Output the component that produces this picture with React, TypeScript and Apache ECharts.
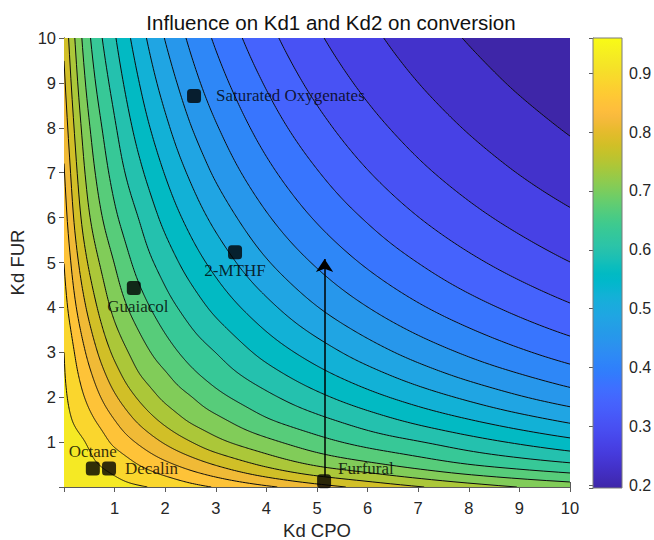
import React, { useEffect, useRef } from "react";
import * as echarts from "echarts";

// ---------- data ----------
const KD_CPO_GRID = [0, 0.5, 1, 1.5, 2, 2.5, 3, 4, 5, 6, 7, 8, 9, 10];
const KD_FUR_GRID = [0, 0.5, 1, 1.5, 2, 2.5, 3, 4, 5, 6, 7, 8, 9, 10];
// conversion, one row per KD_FUR_GRID value, one column per KD_CPO_GRID value
const CONVERSION_ROWS = [
  [0.9600, 0.9422, 0.9328, 0.9264, 0.9148, 0.8987, 0.8846, 0.8567, 0.8291, 0.8036, 0.7805, 0.7593, 0.7406, 0.7267],
  [0.9479, 0.9301, 0.9118, 0.8852, 0.8597, 0.8352, 0.8119, 0.7703, 0.7368, 0.7134, 0.6907, 0.6693, 0.6528, 0.6380],
  [0.9403, 0.9192, 0.8792, 0.8441, 0.8096, 0.7793, 0.7525, 0.7148, 0.6824, 0.6556, 0.6344, 0.6114, 0.5902, 0.5705],
  [0.9347, 0.8966, 0.8503, 0.8048, 0.7667, 0.7358, 0.7137, 0.6720, 0.6415, 0.6124, 0.5849, 0.5601, 0.5365, 0.5146],
  [0.9303, 0.8766, 0.8200, 0.7710, 0.7331, 0.7068, 0.6803, 0.6408, 0.6050, 0.5722, 0.5426, 0.5154, 0.4897, 0.4675],
  [0.9267, 0.8579, 0.7931, 0.7419, 0.7092, 0.6780, 0.6533, 0.6109, 0.5716, 0.5367, 0.5047, 0.4762, 0.4517, 0.4295],
  [0.9236, 0.8390, 0.7692, 0.7214, 0.6853, 0.6551, 0.6316, 0.5828, 0.5415, 0.5042, 0.4717, 0.4439, 0.4192, 0.3974],
  [0.9032, 0.8030, 0.7307, 0.6842, 0.6476, 0.6163, 0.5861, 0.5336, 0.4877, 0.4504, 0.4185, 0.3912, 0.3670, 0.3451],
  [0.8867, 0.7717, 0.7036, 0.6536, 0.6155, 0.5793, 0.5471, 0.4901, 0.4450, 0.4078, 0.3766, 0.3491, 0.3255, 0.3047],
  [0.8691, 0.7443, 0.6761, 0.6291, 0.5847, 0.5465, 0.5120, 0.4543, 0.4093, 0.3728, 0.3413, 0.3151, 0.2930, 0.2740],
  [0.8540, 0.7245, 0.6547, 0.6031, 0.5572, 0.5166, 0.4803, 0.4236, 0.3793, 0.3425, 0.3124, 0.2878, 0.2667, 0.2490],
  [0.8374, 0.7076, 0.6367, 0.5795, 0.5314, 0.4885, 0.4535, 0.3970, 0.3528, 0.3171, 0.2886, 0.2649, 0.2452, 0.2278],
  [0.8217, 0.6897, 0.6176, 0.5580, 0.5072, 0.4646, 0.4295, 0.3736, 0.3296, 0.2954, 0.2680, 0.2457, 0.2265, 0.2105],
  [0.8068, 0.6731, 0.5993, 0.5374, 0.4848, 0.4431, 0.4081, 0.3523, 0.3094, 0.2768, 0.2507, 0.2288, 0.2110, 0.1950],
];
const CONTOUR_LEVELS = [
  0.2314, 0.2679, 0.3043, 0.3407, 0.3771, 0.4136, 0.4500, 0.4864, 0.5229, 0.5593,
  0.5957, 0.6321, 0.6686, 0.7050, 0.7414, 0.7779, 0.8143, 0.8507, 0.8871, 0.9236,
];
const COLOR_MIN = 0.195;
const COLOR_MAX = 0.96;

const SOLVENT_NAMES = ["Saturated Oxygenates", "2-MTHF", "Guaiacol", "Octane", "Decalin", "Furfural"];
const SOLVENT_KD_CPO = [2.57, 3.38, 1.38, 0.57, 0.89, 5.14];
const SOLVENT_KD_FUR = [8.71, 5.23, 4.43, 0.41, 0.41, 0.13];

const ARROW_FROM = [5.15, 0.25];
const ARROW_TO = [5.15, 5.08];

// ---------- parula colormap ----------
const PARULA = [
  [0.2422, 0.1504, 0.6603], [0.2504, 0.1650, 0.7076], [0.2578, 0.1818, 0.7511], [0.2647, 0.1978, 0.7952],
  [0.2706, 0.2147, 0.8364], [0.2751, 0.2342, 0.8710], [0.2783, 0.2559, 0.8991], [0.2803, 0.2782, 0.9221],
  [0.2813, 0.3006, 0.9414], [0.2810, 0.3228, 0.9579], [0.2795, 0.3447, 0.9717], [0.2760, 0.3667, 0.9829],
  [0.2699, 0.3892, 0.9906], [0.2602, 0.4123, 0.9952], [0.2440, 0.4358, 0.9988], [0.2206, 0.4603, 0.9973],
  [0.1963, 0.4847, 0.9892], [0.1834, 0.5074, 0.9798], [0.1786, 0.5289, 0.9682], [0.1764, 0.5499, 0.9520],
  [0.1687, 0.5703, 0.9359], [0.1540, 0.5902, 0.9218], [0.1460, 0.6091, 0.9079], [0.1380, 0.6276, 0.8973],
  [0.1248, 0.6459, 0.8883], [0.1113, 0.6635, 0.8763], [0.0952, 0.6798, 0.8598], [0.0689, 0.6948, 0.8394],
  [0.0297, 0.7082, 0.8163], [0.0036, 0.7203, 0.7917], [0.0067, 0.7312, 0.7660], [0.0433, 0.7411, 0.7394],
  [0.0964, 0.7500, 0.7120], [0.1408, 0.7584, 0.6842], [0.1717, 0.7670, 0.6554], [0.1938, 0.7758, 0.6251],
  [0.2161, 0.7843, 0.5923], [0.2470, 0.7918, 0.5567], [0.2906, 0.7973, 0.5188], [0.3406, 0.8008, 0.4789],
  [0.3909, 0.8029, 0.4354], [0.4456, 0.8024, 0.3909], [0.5044, 0.7993, 0.3480], [0.5616, 0.7942, 0.3045],
  [0.6174, 0.7876, 0.2612], [0.6720, 0.7793, 0.2227], [0.7242, 0.7698, 0.1910], [0.7738, 0.7598, 0.1646],
  [0.8203, 0.7498, 0.1535], [0.8634, 0.7406, 0.1596], [0.9035, 0.7330, 0.1774], [0.9393, 0.7288, 0.2100],
  [0.9728, 0.7298, 0.2394], [0.9956, 0.7434, 0.2371], [0.9970, 0.7659, 0.2199], [0.9952, 0.7893, 0.2028],
  [0.9892, 0.8136, 0.1885], [0.9786, 0.8386, 0.1766], [0.9676, 0.8639, 0.1643], [0.9610, 0.8890, 0.1537],
  [0.9597, 0.9135, 0.1423], [0.9628, 0.9373, 0.1265], [0.9691, 0.9606, 0.1064], [0.9769, 0.9839, 0.0805],
];
const rgb = (c: number[]) =>
  `rgb(${Math.round(c[0] * 255)},${Math.round(c[1] * 255)},${Math.round(c[2] * 255)})`;
const colorFor = (v: number) => {
  const t = (v - COLOR_MIN) / (COLOR_MAX - COLOR_MIN);
  const idx = Math.max(0, Math.min(63, Math.floor(t * 64)));
  return rgb(PARULA[idx]);
};

// ---------- monotone cubic (pchip) interpolation of the grid ----------
function endSlope(h0: number, h1: number, d0: number, d1: number) {
  let d = ((2 * h0 + h1) * d0 - h0 * d1) / (h0 + h1);
  if (Math.sign(d) !== Math.sign(d0)) d = 0;
  else if (Math.sign(d0) !== Math.sign(d1) && Math.abs(d) > Math.abs(3 * d0)) d = 3 * d0;
  return d;
}
function pchipSlopes(xs: number[], ys: number[]) {
  const n = xs.length;
  const h: number[] = [];
  const del: number[] = [];
  for (let i = 0; i < n - 1; i++) {
    h[i] = xs[i + 1] - xs[i];
    del[i] = (ys[i + 1] - ys[i]) / h[i];
  }
  const d = new Array(n).fill(0);
  for (let k = 1; k < n - 1; k++) {
    if (del[k - 1] * del[k] > 0) {
      const w1 = 2 * h[k] + h[k - 1];
      const w2 = h[k] + 2 * h[k - 1];
      d[k] = (w1 + w2) / (w1 / del[k - 1] + w2 / del[k]);
    }
  }
  d[0] = endSlope(h[0], h[1], del[0], del[1]);
  d[n - 1] = endSlope(h[n - 2], h[n - 3], del[n - 2], del[n - 3]);
  return d;
}
function hermite(xs: number[], ys: number[], d: number[], x: number) {
  const n = xs.length;
  let i = 0;
  while (i < n - 2 && x > xs[i + 1]) i++;
  const h = xs[i + 1] - xs[i];
  const t = (x - xs[i]) / h;
  const t2 = t * t;
  const t3 = t2 * t;
  return (
    (2 * t3 - 3 * t2 + 1) * ys[i] +
    (t3 - 2 * t2 + t) * h * d[i] +
    (-2 * t3 + 3 * t2) * ys[i + 1] +
    (t3 - t2) * h * d[i + 1]
  );
}
const ROW_SLOPES = CONVERSION_ROWS.map((r) => pchipSlopes(KD_CPO_GRID, r));
function field(x: number, y: number) {
  const col = CONVERSION_ROWS.map((r, j) => hermite(KD_CPO_GRID, r, ROW_SLOPES[j], x));
  const dy = pchipSlopes(KD_FUR_GRID, col);
  return hermite(KD_FUR_GRID, col, dy, y);
}

// ---------- contour geometry (data coordinates) ----------
const X_MAX = KD_CPO_GRID[KD_CPO_GRID.length - 1];
const Y_MAX = KD_FUR_GRID[KD_FUR_GRID.length - 1];
function edgePoint(th: number) {
  const c = Math.cos(th);
  const s = Math.sin(th);
  const r = Math.min(c > 1e-12 ? X_MAX / c : Infinity, s > 1e-12 ? Y_MAX / s : Infinity);
  return [r * c, r * s, r];
}
function buildContours() {
  const N = 420;
  return CONTOUR_LEVELS.map((L) => {
    const poly: number[][] = [[0, 0]];
    const lines: number[][][] = [];
    let cur: number[][] | null = null;
    let prevInside: boolean | null = null;
    let prevTh = 0;
    for (let j = 0; j <= N; j++) {
      const th = (j / N) * (Math.PI / 2);
      const b = edgePoint(th);
      const inside = field(b[0], b[1]) >= L;
      if (prevInside !== null && inside !== prevInside) {
        let a = prevTh;
        let c = th;
        for (let k = 0; k < 30; k++) {
          const m = (a + c) / 2;
          const pm = edgePoint(m);
          if ((field(pm[0], pm[1]) >= L) === prevInside) a = m;
          else c = m;
        }
        const pe = edgePoint((a + c) / 2);
        const p = [pe[0], pe[1]];
        poly.push(p);
        if (cur) {
          cur.push(p);
          lines.push(cur);
          cur = null;
        } else cur = [p];
      }
      if (inside) {
        poly.push([b[0], b[1]]);
      } else {
        const cs = Math.cos(th);
        const sn = Math.sin(th);
        let lo = 0;
        let hi = b[2];
        for (let k = 0; k < 24; k++) {
          const mid = (lo + hi) / 2;
          if (field(mid * cs, mid * sn) >= L) lo = mid;
          else hi = mid;
        }
        const r = (lo + hi) / 2;
        const p = [r * cs, r * sn];
        poly.push(p);
        if (!cur) cur = [];
        cur.push(p);
      }
      prevInside = inside;
      prevTh = th;
    }
    if (cur) lines.push(cur);
    return { level: L, color: colorFor(L), poly, lines };
  });
}

const FONT = "'Liberation Sans', Arial, Helvetica, sans-serif";
const SERIF = "'Liberation Serif', 'Times New Roman', serif";
const AXIS_COLOR = "#5a5a5a";
const TEXT_COLOR = "#262626";

export default function App() {
  const ref = useRef<HTMLDivElement>(null);
  useEffect(() => {
    if (!ref.current) return;
    const chart = echarts.init(ref.current, undefined, { renderer: "svg" });
    const contours = buildContours();

    const labelCfg: any = {
      "Saturated Oxygenates": { position: "right", distance: 15 },
      "2-MTHF": { position: "bottom", distance: 3 },
      Guaiacol: { position: "bottom", distance: 3, offset: [4, 0] },
      Octane: { position: "top", distance: 2 },
      Decalin: { position: "right", distance: 9 },
      Furfural: { position: "right", distance: 7, offset: [0, -13] },
    };

    const mainAxisCommon = {
      min: 0,
      max: 10,
      interval: 1,
      splitLine: { show: false },
      axisLine: { show: true, lineStyle: { color: AXIS_COLOR, width: 1 } },
      axisTick: { show: true, inside: true, length: 5, lineStyle: { color: AXIS_COLOR } },
    };

    const option: any = {
      animation: false,
      backgroundColor: "#ffffff",
      title: {
        text: "Influence on Kd1 and Kd2 on conversion",
        left: 326,
        top: 7,
        textAlign: "center",
        textStyle: { fontFamily: FONT, fontSize: 20.5, fontWeight: "normal", color: "#111111" },
      },
      grid: [
        { left: 64, top: 38, width: 506, height: 449, containLabel: false, outerBoundsMode: "none" },
        { left: 593, top: 38, width: 29, height: 450, containLabel: false, outerBoundsMode: "none" },
      ],
      xAxis: [
        {
          ...mainAxisCommon,
          type: "value",
          gridIndex: 0,
          position: "bottom",
          name: "Kd CPO",
          nameLocation: "middle",
          nameGap: 33,
          nameTextStyle: { fontFamily: FONT, fontSize: 18.5, color: TEXT_COLOR },
          axisLabel: {
            margin: 12,
            fontFamily: FONT,
            fontSize: 16.5,
            color: TEXT_COLOR,
            formatter: (v: number) => (v === 0 ? "" : String(v)),
          },
        },
        {
          ...mainAxisCommon,
          type: "value",
          gridIndex: 0,
          position: "top",
          axisLabel: { show: false },
        },
        { type: "value", gridIndex: 1, min: 0, max: 1, show: false },
      ],
      yAxis: [
        {
          ...mainAxisCommon,
          type: "value",
          gridIndex: 0,
          position: "left",
          name: "Kd FUR",
          nameLocation: "middle",
          nameGap: 30,
          nameTextStyle: { fontFamily: FONT, fontSize: 18.5, color: TEXT_COLOR },
          axisLabel: {
            margin: 8,
            fontFamily: FONT,
            fontSize: 16.5,
            color: TEXT_COLOR,
            formatter: (v: number) => (v === 0 ? "" : String(v)),
          },
        },
        {
          ...mainAxisCommon,
          type: "value",
          gridIndex: 0,
          position: "right",
          axisLabel: { show: false },
        },
        {
          type: "value",
          gridIndex: 1,
          position: "right",
          min: COLOR_MIN,
          max: COLOR_MAX,
          splitNumber: 7,
          splitLine: { show: false },
          axisLine: { show: true, lineStyle: { color: "#7a7a7a", width: 1 } },
          axisTick: { show: true, inside: true, length: 4, lineStyle: { color: "#5a5a5a" } },
          axisLabel: {
            margin: 7,
            fontFamily: FONT,
            fontSize: 16,
            color: TEXT_COLOR,
            formatter: (v: number) =>
              Math.abs(v * 10 - Math.round(v * 10)) < 1e-6 ? v.toFixed(1) : "",
          },
        },
      ],
      series: [
        {
          type: "custom",
          name: "conversion",
          coordinateSystem: "cartesian2d",
          xAxisIndex: 0,
          yAxisIndex: 0,
          silent: true,
          clip: true,
          z: 1,
          data: [[0, 0]],
          renderItem: (params: any, api: any) => {
            const children: any[] = [];
            const p0 = api.coord([0, 0]);
            const p1 = api.coord([X_MAX, Y_MAX]);
            children.push({
              type: "rect",
              shape: { x: p0[0], y: p1[1], width: p1[0] - p0[0], height: p0[1] - p1[1] },
              style: { fill: colorFor(COLOR_MIN) },
            });
            contours.forEach((c) => {
              children.push({
                type: "polygon",
                shape: { points: c.poly.map((p) => api.coord(p)) },
                style: { fill: c.color },
              });
            });
            contours.forEach((c) => {
              c.lines.forEach((l) => {
                children.push({
                  type: "polyline",
                  shape: { points: l.map((p) => api.coord(p)) },
                  style: { stroke: "#0d0d0d", lineWidth: 1, fill: null },
                });
              });
            });
            return { type: "group", children };
          },
        },
        {
          type: "custom",
          name: "colorbar",
          coordinateSystem: "cartesian2d",
          xAxisIndex: 2,
          yAxisIndex: 2,
          silent: true,
          z: 1,
          data: [[0, COLOR_MIN]],
          renderItem: (params: any, api: any) => {
            const top = api.coord([0, COLOR_MAX]);
            const bot = api.coord([1, COLOR_MIN]);
            return {
              type: "rect",
              shape: { x: top[0], y: top[1], width: bot[0] - top[0], height: bot[1] - top[1] },
              style: {
                fill: {
                  type: "linear",
                  x: 0,
                  y: 1,
                  x2: 0,
                  y2: 0,
                  colorStops: PARULA.map((c, i) => ({ offset: i / 63, color: rgb(c) })),
                },
                stroke: "#7a7a7a",
                lineWidth: 1,
              },
            };
          },
        },
        {
          type: "lines",
          coordinateSystem: "cartesian2d",
          xAxisIndex: 0,
          yAxisIndex: 0,
          silent: true,
          z: 4,
          symbol: ["none", "arrow"],
          symbolSize: [0, 13],
          lineStyle: { color: "#000", width: 1.5, opacity: 1 },
          data: [{ coords: [ARROW_FROM, ARROW_TO] }],
        },
        {
          type: "scatter",
          xAxisIndex: 0,
          yAxisIndex: 0,
          silent: true,
          z: 5,
          symbol: "roundRect",
          symbolSize: 14,
          itemStyle: { color: "#000" },
          data: SOLVENT_NAMES.map((n, i) => ({
            name: n,
            value: [SOLVENT_KD_CPO[i], SOLVENT_KD_FUR[i]],
            label: {
              show: true,
              formatter: n,
              fontFamily: SERIF,
              fontSize: 17,
              color: "#000",
              ...labelCfg[n],
            },
          })),
        },
      ],
    };
    chart.setOption(option);
    return () => chart.dispose();
  }, []);
  return (
    <div
      ref={ref}
      style={{ position: "absolute", left: 0, top: 0, width: 654, height: 540, background: "#fff" }}
    />
  );
}
